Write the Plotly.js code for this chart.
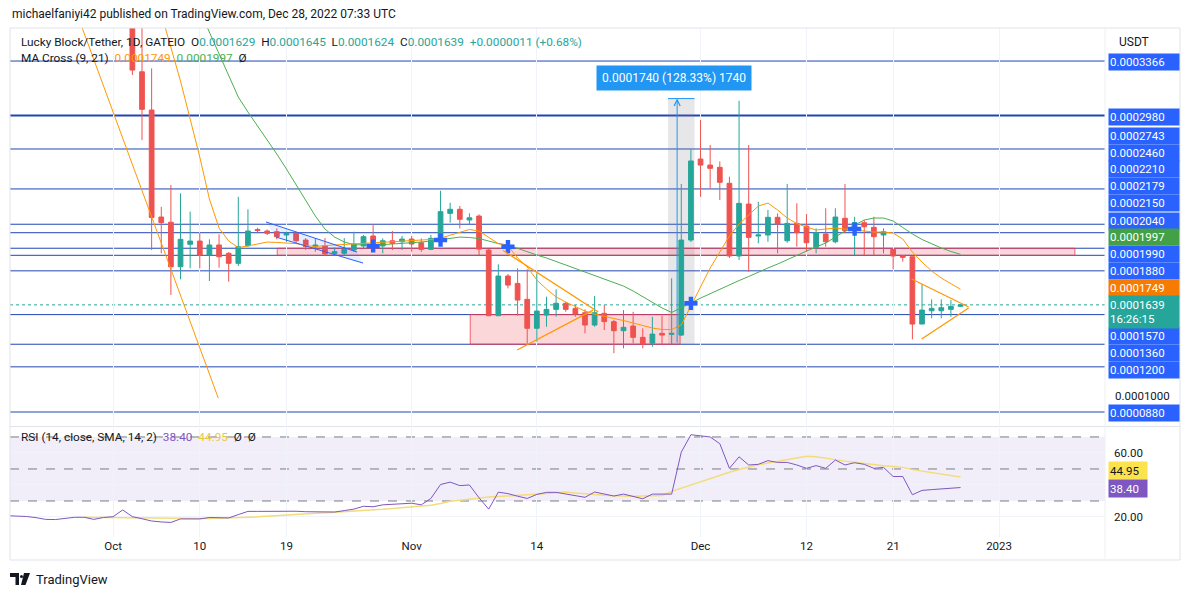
<!DOCTYPE html>
<html><head><meta charset="utf-8">
<script src="https://cdn.plot.ly/plotly-3.0.1.min.js"></script>
<style>html,body{margin:0;padding:0;background:#fff;}#chart{width:1194px;height:597px;}</style>
</head><body><div id="chart"></div>
<script>
// ---------- DATA ----------
const candleStart = '2022-10-03';
const candleOpen = [
0.000372,0.0003290,0.0003019,0.0002261,0.0002224,0.0001909,0.0002068,0.0002091,0.0001992,0.0002063,
0.0002004,0.0001933,0.0002058,0.0002173,0.0002162,0.0002157,0.0002134,0.0002146,0.0002098,0.0002051,
0.0002056,0.0002004,0.0002004,0.0002027,0.0002056,0.0002127,0.0002056,0.0002093,0.0002086,
0.0002105,0.0002079,0.0002032,0.0002110,0.0002287,0.0002316,0.0002240,0.0002268,0.0002027,0.0001562,
0.0001843,0.0001791,0.0001678,0.0001473,0.0001567,0.0001607,0.0001650,0.0001614,0.0001583,0.0001496,
0.0001579,0.0001520,0.0001456,0.0001489,0.0001409,0.0001367,0.0001437,0.0001430,0.0001425,0.0002098,
0.0002672,0.0002629,0.0002613,0.0002500,0.0001985,0.0002353,0.0002127,0.0002134,0.0002259,0.0002093,
0.0002216,0.0002197,0.0002046,0.0002141,0.0002086,0.0002252,0.0002181,0.0002221,0.0002188,0.0002134,
0.0002032,0.0001985,0.0001980,0.0001503,0.0001597,0.0001597,0.0001607,0.0001629];
const candleHigh = [
0.000390,0.000365,0.0003314,0.0002334,0.0002488,0.0002429,0.0002299,0.0002150,0.0002103,0.0002139,
0.0002013,0.0002404,0.0002316,0.0002185,0.0002173,0.0002181,0.0002157,0.0002157,0.0002112,0.0002112,
0.0002112,0.0002046,0.0002112,0.0002157,0.0002134,0.0002211,0.0002110,0.0002162,0.0002127,
0.0002127,0.0002110,0.0002134,0.0002447,0.0002362,0.0002339,0.0002287,0.0002280,0.0002034,0.0001926,
0.0001857,0.0001898,0.0001891,0.0001862,0.0001697,0.0001749,0.0001661,0.0001638,0.0001607,0.0001702,
0.0001638,0.0001532,0.0001602,0.0001590,0.0001473,0.0001555,0.0001562,0.0001827,0.0002495,0.0002741,
0.0002948,0.0002771,0.0002655,0.0002547,0.0003085,0.0002771,0.0002369,0.0002311,0.0002287,0.0002495,
0.0002358,0.0002282,0.0002181,0.0002323,0.0002323,0.0002495,0.0002263,0.0002240,0.0002263,0.0002181,
0.0002034,0.0001992,0.0001980,0.0001787,0.0001678,0.0001678,0.0001673,0.0001645];
const candleLow = [
0.0003267,0.0002806,0.0002027,0.0002004,0.0001709,0.0001820,0.0001898,0.0001898,0.0001808,0.0001902,
0.0001803,0.0001914,0.0002051,0.0002146,0.0002134,0.0002103,0.0002086,0.0002075,0.0002027,0.0002015,
0.0001985,0.0001985,0.0001992,0.0002015,0.0002039,0.0002027,0.0002004,0.0002027,0.0002027,
0.0002015,0.0002015,0.0002027,0.0002086,0.0002221,0.0002181,0.0002204,0.0001992,0.0001560,0.0001560,
0.0001756,0.0001562,0.0001367,0.0001378,0.0001484,0.0001555,0.0001590,0.0001555,0.0001437,0.0001484,
0.0001461,0.0001296,0.0001331,0.0001367,0.0001331,0.0001342,0.0001354,0.0001354,0.0001418,0.0002084,
0.0002404,0.0002464,0.0002381,0.0001971,0.0001957,0.0001874,0.0002075,0.0002086,0.0002004,0.0002079,
0.0002051,0.0002015,0.0002004,0.0002051,0.0002075,0.0002146,0.0001992,0.0001992,0.0001992,0.0002004,
0.0001891,0.0001945,0.0001395,0.0001503,0.0001544,0.0001544,0.0001555,0.0001624];
const candleClose = [
0.0003302,0.0003024,0.0002258,0.0002222,0.0001909,0.0002103,0.0002091,0.0001992,0.0002063,0.0001980,
0.0001933,0.0002051,0.0002162,0.0002166,0.0002146,0.0002122,0.0002146,0.0002093,0.0002052,0.0002063,
0.0001999,0.0002015,0.0002032,0.0002070,0.0002122,0.0002051,0.0002093,0.0002075,0.0002105,
0.0002070,0.0002032,0.0002110,0.0002299,0.0002316,0.0002245,0.0002256,0.0002034,0.0001562,0.0001843,
0.0001779,0.0001673,0.0001473,0.0001595,0.0001607,0.0001650,0.0001607,0.0001574,0.0001496,0.0001583,
0.0001520,0.0001456,0.0001480,0.0001409,0.0001362,0.0001432,0.0001425,0.0001437,0.0002098,0.0002658,
0.0002629,0.0002606,0.0002507,0.0001985,0.0002358,0.0002117,0.0002134,0.0002259,0.0002211,0.0002216,
0.0002150,0.0002079,0.0002150,0.0002086,0.0002261,0.0002164,0.0002221,0.0002192,0.0002122,0.0002157,
0.0001985,0.0001976,0.0001503,0.0001602,0.0001614,0.0001619,0.0001628,0.0001639];

const ma9Start = '2022-10-05';
const ma9Values = [
0.0003940,0.0003699,0.0003465,0.0003224,0.0002955,0.0002686,0.0002389,0.0002183,0.0002091,0.0002045,
0.0002056,0.0002070,0.0002084,0.0002081,0.0002077,0.0002073,0.0002059,0.0002052,0.0002059,0.0002063,
0.0002070,0.0002073,0.0002077,0.0002081,0.0002084,0.0002088,0.0002091,0.0002095,0.0002098,0.0002102,
0.0002112,0.0002134,0.0002155,0.0002173,0.0002162,0.0002119,0.0002073,0.0002056,0.0001971,0.0001907,
0.0001815,0.0001751,0.0001695,0.0001659,0.0001627,0.0001595,0.0001574,0.0001556,0.0001542,0.0001528,
0.0001510,0.0001489,0.0001475,0.0001464,0.0001464,0.0001496,0.0001631,0.0001765,0.0001900,0.0002013,
0.0002127,0.0002211,0.0002275,0.0002339,0.0002360,0.0002311,0.0002254,0.0002215,0.0002190,0.0002169,
0.0002176,0.0002183,0.0002176,0.0002169,0.0002158,0.0002155,0.0002155,0.0002148,0.0002105,0.0002013,
0.0001942,0.0001879,0.0001829,0.0001787,0.0001749];

const ma21Start = '2022-10-09';
const ma21Values = [
0.0003876,0.0003724,0.0003571,0.0003408,0.0003260,0.0003111,0.0003005,0.0002906,0.0002814,0.0002707,
0.0002601,0.0002488,0.0002374,0.0002268,0.0002176,0.0002119,0.0002084,0.0002066,0.0002063,0.0002063,
0.0002066,0.0002070,0.0002073,0.0002077,0.0002084,0.0002091,0.0002102,0.0002112,0.0002119,0.0002116,
0.0002109,0.0002091,0.0002073,0.0002063,0.0002038,0.0002013,0.0001992,0.0001971,0.0001946,0.0001921,
0.0001896,0.0001872,0.0001847,0.0001822,0.0001797,0.0001772,0.0001737,0.0001698,0.0001656,0.0001617,
0.0001585,0.0001617,0.0001652,0.0001687,0.0001719,0.0001751,0.0001783,0.0001811,0.0001840,0.0001872,
0.0001900,0.0001928,0.0001960,0.0001992,0.0002020,0.0002049,0.0002077,0.0002119,0.0002162,0.0002204,
0.0002240,0.0002254,0.0002254,0.0002233,0.0002187,0.0002141,0.0002102,0.0002070,0.0002042,0.0002017,0.0001997];

const rsiStart = '2022-09-20';
const rsiValues = [
20.8,20.6,20.3,19.6,18.5,18.4,19.0,19.8,19.8,18.5,
19.7,20.2,24.4,20.2,18.9,17.5,16.9,16.6,18.8,18.8,
18.8,19.7,19.5,19.4,21.5,23.5,23.5,23.6,23.8,23.9,
23.6,23.3,23.2,23.0,23.1,24.0,24.9,26.7,26.4,27.6,
27.9,28.4,28.6,27.6,31.6,40.3,41.8,39.6,40.0,32.0,
24.9,35.5,34.6,33.0,31.6,34.1,35.4,35.4,34.3,33.4,
32.3,35.6,34.3,33.1,34.3,32.9,31.4,34.3,34.3,34.3,
60.5,71.4,70.7,70.0,65.8,50.4,57.6,52.5,52.9,55.2,
54.1,54.1,52.5,50.4,52.1,50.4,55.6,52.5,53.9,52.9,
50.4,51.0,45.3,45.3,33.9,36.6,37.1,37.6,38.0,38.4];

const rsiMaStart = '2022-09-28';
const rsiMaValues = [
19.8,19.7,19.6,19.5,19.5,19.5,19.4,19.3,19.2,19.1,
19.0,19.0,19.0,19.0,19.1,19.2,19.5,19.8,20.1,20.4,
20.7,21.0,21.4,21.8,22.2,22.6,23.0,23.3,23.6,24.0,
24.4,24.8,25.3,25.7,26.1,26.7,27.3,28.4,29.8,30.5,
31.2,32.0,32.5,32.8,33.1,33.4,33.7,34.1,34.6,35.1,
35.6,35.0,34.4,33.9,33.6,33.2,33.0,32.9,33.1,33.3,
33.5,36.0,38.0,40.0,42.2,44.3,46.3,48.0,49.7,51.2,
52.6,53.7,54.8,55.9,56.9,58.0,57.6,56.6,55.6,54.9,
54.2,53.4,52.7,52.0,51.6,51.0,49.6,48.7,47.7,46.8,
45.8,44.95];

const crossDates = ['2022-10-28','2022-11-04','2022-11-11','2022-11-30','2022-12-17'];
const crossPrices = [0.0002056,0.0002098,0.0002051,0.0001650,0.0002176];

const hLevels = [0.0003366,0.000298,0.0002743,0.000246,0.000221,0.000215,0.000204,0.000199,0.000188,0.000157,0.000136,0.00012,0.000088];

const tickDates = ['2022-10-01','2022-10-10','2022-10-19','2022-11-01','2022-11-14','2022-12-01','2022-12-12','2022-12-21','2023-01-01'];
const tickText = ['Oct','10','19','Nov','14','Dec','12','21','2023'];

// drawings (endpoints)
const trendLongX = ['2022-09-27 19:00','2022-10-11 22:00'], trendLongY = [0.00036,0.0000979];
const chanUpX = ['2022-10-16 21:00','2022-10-26 08:00'], chanUpY = [0.0002226,0.0002013];
const chanLoX = ['2022-10-17 22:00','2022-10-26 23:00'], chanLoY = [0.0002119,0.0001935];
const novUpX = ['2022-11-10 12:00','2022-11-20 09:00'], novUpY = [0.0002024,0.0001588];
const novLoX = ['2022-11-11 23:00','2022-11-19 20:00'], novLoY = [0.0001319,0.0001602];
const decUpX = ['2022-12-22 22:00','2022-12-28 20:00'], decUpY = [0.0001822,0.0001624];
const decLoX = ['2022-12-23 23:00','2022-12-28 20:00'], decLoY = [0.0001397,0.0001617];
const zoneA = {x:['2022-10-18 01:00','2023-01-08 21:00'], y:[0.000199,0.000204]};
const zoneB = {x:['2022-11-07 02:00','2022-11-28 21:00'], y:[0.000136,0.000157]};
const measure = {x:['2022-11-27 15:00','2022-11-30 09:00'], mid:'2022-11-28 13:40', y:[0.000136,0.00031],
  text:'0.0001740 (128.33%) 1740'};

// ---------- HELPERS ----------
function days(start, n){const t0=Date.parse(start+'T00:00:00Z');return Array.from({length:n},(_,i)=>new Date(t0+i*864e5).toISOString().slice(0,10));}
const L=10,R=1105,T=28,B=537;
const px = x => (x-L)/(R-L);
const py = y => (B-y)/(B-T);
const FONT = 'Roboto, "Liberation Sans", Arial, sans-serif';
const TEAL='#26a69a', RED='#ef5350', BLUE='#2962ff', ORANGE='#ff9800', GREEN='#4caf50', PURPLE='#7e57c2', YEL='#f3dc79';
const LINE='#2146b4';
const fmt = v => v.toFixed(7);

const cDates = days(candleStart, candleOpen.length);
const n = candleClose.length;
const lastO=candleOpen[n-1], lastH=candleHigh[n-1], lastL=candleLow[n-1], lastC=candleClose[n-1], prevC=candleClose[n-2];
const chg = lastC-prevC;

// ---------- TRACES ----------
const traces = [
 {type:'scatter',mode:'lines',x:[chanUpX[0],chanUpX[1],chanLoX[1],chanLoX[0]],y:[chanUpY[0],chanUpY[1],chanLoY[1],chanLoY[0]],
  fill:'toself',fillcolor:'rgba(41,98,255,0.10)',line:{width:0},hoverinfo:'skip',xaxis:'x',yaxis:'y'},
 {type:'scatter',mode:'lines',x:days(ma21Start,ma21Values.length),y:ma21Values,line:{color:GREEN,width:1},hoverinfo:'skip',xaxis:'x',yaxis:'y'},
 {type:'scatter',mode:'lines',x:days(ma9Start,ma9Values.length),y:ma9Values,line:{color:ORANGE,width:1},hoverinfo:'skip',xaxis:'x',yaxis:'y'},
 {type:'candlestick',x:cDates,open:candleOpen,high:candleHigh,low:candleLow,close:candleClose,xaxis:'x',yaxis:'y',
  increasing:{line:{color:TEAL,width:1},fillcolor:TEAL},decreasing:{line:{color:RED,width:1},fillcolor:RED},whiskerwidth:0,hoverinfo:'skip'},
 {type:'scatter',mode:'markers',x:crossDates,y:crossPrices,marker:{symbol:'cross',size:11,color:BLUE},hoverinfo:'skip',xaxis:'x',yaxis:'y'},
 {type:'scatter',mode:'lines',x:days(rsiMaStart,rsiMaValues.length),y:rsiMaValues,line:{color:YEL,width:1.5},hoverinfo:'skip',xaxis:'x',yaxis:'y2'},
 {type:'scatter',mode:'lines',x:days(rsiStart,rsiValues.length),y:rsiValues,line:{color:PURPLE,width:1},hoverinfo:'skip',xaxis:'x',yaxis:'y2'}
];

// ---------- SHAPES ----------
const shapes = [];
shapes.push({type:'rect',xref:'x',yref:'y',x0:measure.x[0],x1:measure.x[1],y0:measure.y[0],y1:measure.y[1],fillcolor:'rgba(120,123,134,0.18)',line:{width:0},layer:'below'});
shapes.push({type:'line',xref:'x',yref:'y',x0:measure.x[0],x1:measure.x[1],y0:measure.y[1],y1:measure.y[1],line:{color:'#2196f3',width:1}});
[zoneA,zoneB].forEach(z=>shapes.push({type:'rect',xref:'x',yref:'y',x0:z.x[0],x1:z.x[1],y0:z.y[0],y1:z.y[1],fillcolor:'rgba(242,54,69,0.2)',line:{color:'rgba(242,54,69,0.75)',width:1},layer:'below'}));
hLevels.forEach(v=>shapes.push({type:'line',xref:'paper',yref:'y',x0:0,x1:1,y0:v,y1:v,line:{color:LINE,width:v===0.000298?2:1},layer:'below'}));
shapes.push({type:'line',xref:'paper',yref:'y',x0:0,x1:1,y0:lastC,y1:lastC,line:{color:TEAL,width:1,dash:'dot'},layer:'below'});
const seg=(X,Y,c,w)=>shapes.push({type:'line',xref:'x',yref:'y',x0:X[0],x1:X[1],y0:Y[0],y1:Y[1],line:{color:c,width:w}});
seg(trendLongX,trendLongY,ORANGE,1);
seg(chanUpX,chanUpY,BLUE,1);
seg(chanLoX,chanLoY,BLUE,1);
seg(novUpX,novUpY,ORANGE,1.3);
seg(novLoX,novLoY,ORANGE,1.3);
seg(decUpX,decUpY,ORANGE,1.3);
seg(decLoX,decLoY,ORANGE,1.3);
shapes.push({type:'rect',xref:'paper',yref:'y2',x0:0,x1:1,y0:30,y1:70,fillcolor:'rgba(126,87,194,0.10)',line:{width:0},layer:'below'});
[70,50,30].forEach(v=>shapes.push({type:'line',xref:'paper',yref:'y2',x0:0,x1:1,y0:v,y1:v,line:{color:'#787b86',width:1,dash:'dash'},layer:'below'}));
shapes.push({type:'line',xref:'paper',yref:'paper',x0:0,x1:px(1180),y0:py(426.5),y1:py(426.5),line:{color:'#e0e3eb',width:1}});
shapes.push({type:'rect',xref:'paper',yref:'paper',x0:px(10),x1:px(1180),y0:py(560),y1:py(28),line:{color:'#e0e3eb',width:1},fillcolor:'rgba(0,0,0,0)'});
shapes.push({type:'line',xref:'paper',yref:'paper',x0:1,x1:1,y0:py(560),y1:py(28),line:{color:'#eef0f4',width:1}});
shapes.push({type:'path',xref:'paper',yref:'paper',path:`M${px(10)},${py(573)} L${px(19)},${py(573)} L${px(19)},${py(585)} L${px(15.5)},${py(585)} L${px(15.5)},${py(577)} L${px(10)},${py(577)} Z`,fillcolor:'#131722',line:{width:0}});
shapes.push({type:'path',xref:'paper',yref:'paper',path:`M${px(24)},${py(573)} L${px(30)},${py(573)} L${px(25.5)},${py(585)} L${px(21)},${py(585)} Z`,fillcolor:'#131722',line:{width:0}});
shapes.push({type:'circle',xref:'paper',yref:'paper',x0:px(20),x1:px(23),y0:py(578),y1:py(575),fillcolor:'#131722',line:{width:0}});

// ---------- ANNOTATIONS ----------
const ann = [];
const txt=(x,y,text,size,color,anchor)=>ann.push({xref:'paper',yref:'paper',x:px(x),y:py(y),xanchor:anchor||'left',yanchor:'middle',text,showarrow:false,font:{family:FONT,size:size,color:color}});
txt(10,14,'michaelfaniyi42 published on TradingView.com, Dec 28, 2022 07:33 UTC',12,'#131722');
const sp='\u00a0';
const col=(c,t)=>`<span style="color:${c}">${t}</span>`;
txt(19,42,`Lucky Block/Tether, 1D, GATEIO${sp}${sp}O${col(TEAL,fmt(lastO))}${sp}${sp}H${col(TEAL,fmt(lastH))}${sp}${sp}L${col(TEAL,fmt(lastL))}${sp}${sp}C${col(TEAL,fmt(lastC))}${sp}${sp}${col(TEAL,(chg>=0?'+':'')+fmt(chg)+' ('+(chg>=0?'+':'')+(chg/prevC*100).toFixed(2)+'%)')}`,11.8,'#131722');
txt(19,58,`MA Cross (9, 21)${sp}${sp}${col(ORANGE,fmt(ma9Values[ma9Values.length-1]))}${sp}${sp}${col(GREEN,fmt(ma21Values[ma21Values.length-1]))}${sp}${sp}Ø`,11.8,'#131722');
txt(19,437,`RSI (14, close, SMA, 14, 2)${sp}${sp}${col(PURPLE,rsiValues[rsiValues.length-1].toFixed(2))}${sp}${sp}${col('#e8c93a',rsiMaValues[rsiMaValues.length-1].toFixed(2))}${sp}${sp}Ø${sp}${sp}Ø`,11.8,'#131722');
txt(1117,42,'USDT',12,'#131722');
txt(34,579,'TradingView',13,'#131722');

const lblValues = [0.0003366,0.000298,0.0002743,0.000246,0.000221,0.0002179,0.000215,0.000204,ma21Values[ma21Values.length-1],0.000199,0.000188,ma9Values[ma9Values.length-1],0.000157,0.000136,0.00012,0.000088];
const lblPixY   = [62,117.5,135.5,152.5,169.3,186,203.2,220.5,237.3,254.2,270.7,287.5,336,352.7,370,413];
const lblColors = [BLUE,BLUE,BLUE,BLUE,BLUE,BLUE,BLUE,BLUE,'#43a047',BLUE,BLUE,'#f57c00',BLUE,BLUE,BLUE,BLUE];
lblValues.forEach((v,i)=>ann.push({xref:'paper',yref:'paper',x:px(1108),y:py(lblPixY[i]),xanchor:'left',yanchor:'middle',text:fmt(v),showarrow:false,
  bgcolor:lblColors[i],width:68,height:14,borderpad:1,align:'left',font:{family:FONT,size:11.5,color:'#ffffff'}}));
ann.push({xref:'paper',yref:'paper',x:px(1108),y:py(312),xanchor:'left',yanchor:'middle',text:fmt(lastC)+'<br>16:26:15',showarrow:false,
  bgcolor:TEAL,width:68,height:30,borderpad:1,align:'left',font:{family:FONT,size:11.5,color:'#ffffff'}});
txt(1113,396,'0.0001000',11.5,'#131722');
ann.push({xref:'paper',yref:'paper',x:px(1108),y:py(470),xanchor:'left',yanchor:'middle',text:rsiMaValues[rsiMaValues.length-1].toFixed(2),showarrow:false,
  bgcolor:'#fbe34d',width:36,height:15,borderpad:1,align:'left',font:{family:FONT,size:11.5,color:'#131722'}});
ann.push({xref:'paper',yref:'paper',x:px(1108),y:py(488),xanchor:'left',yanchor:'middle',text:rsiValues[rsiValues.length-1].toFixed(2),showarrow:false,
  bgcolor:PURPLE,width:36,height:15,borderpad:1,align:'left',font:{family:FONT,size:11.5,color:'#ffffff'}});
ann.push({xref:'x',yref:'y',x:measure.mid,y:measure.y[1],ax:measure.mid,ay:measure.y[0],axref:'x',ayref:'y',showarrow:true,arrowhead:5,arrowsize:1.2,arrowwidth:1,arrowcolor:'#2196f3',text:''});
ann.push({xref:'paper',yref:'paper',x:px(674),y:py(78),xanchor:'center',yanchor:'middle',text:measure.text,showarrow:false,
  bgcolor:'#2196f3',borderpad:5,font:{family:FONT,size:12,color:'#ffffff'}});

// ---------- LAYOUT ----------
const layout = {
  width:1194,height:597,margin:{l:L,r:1194-R,t:T,b:597-B},
  paper_bgcolor:'#ffffff',plot_bgcolor:'#ffffff',showlegend:false,
  font:{family:FONT,size:11,color:'#131722'},
  xaxis:{type:'date',anchor:'y2',range:['2022-09-20 07:00','2023-01-12 00:00'],tickvals:tickDates,ticktext:tickText,
    showgrid:true,gridcolor:'#f0f3fa',zeroline:false,showline:false,ticks:'',rangeslider:{visible:false},
    tickfont:{family:FONT,size:11.5,color:'#131722'}},
  yaxis:{domain:[py(425),1],range:[0.0000788,0.00036],side:'right',showgrid:false,zeroline:false,showticklabels:false,ticks:''},
  yaxis2:{domain:[0,py(428)],range:[7.5,75.6],side:'right',tickvals:[20,40,60],ticktext:['20.00','','60.00'],showgrid:true,gridcolor:'#f0f3fa',
    zeroline:false,ticks:'',ticklabelstandoff:8,tickfont:{family:FONT,size:11.5,color:'#131722'}},
  shapes:shapes,annotations:ann
};
Plotly.newPlot('chart',traces,layout,{displayModeBar:false,staticPlot:true});
</script></body></html>
